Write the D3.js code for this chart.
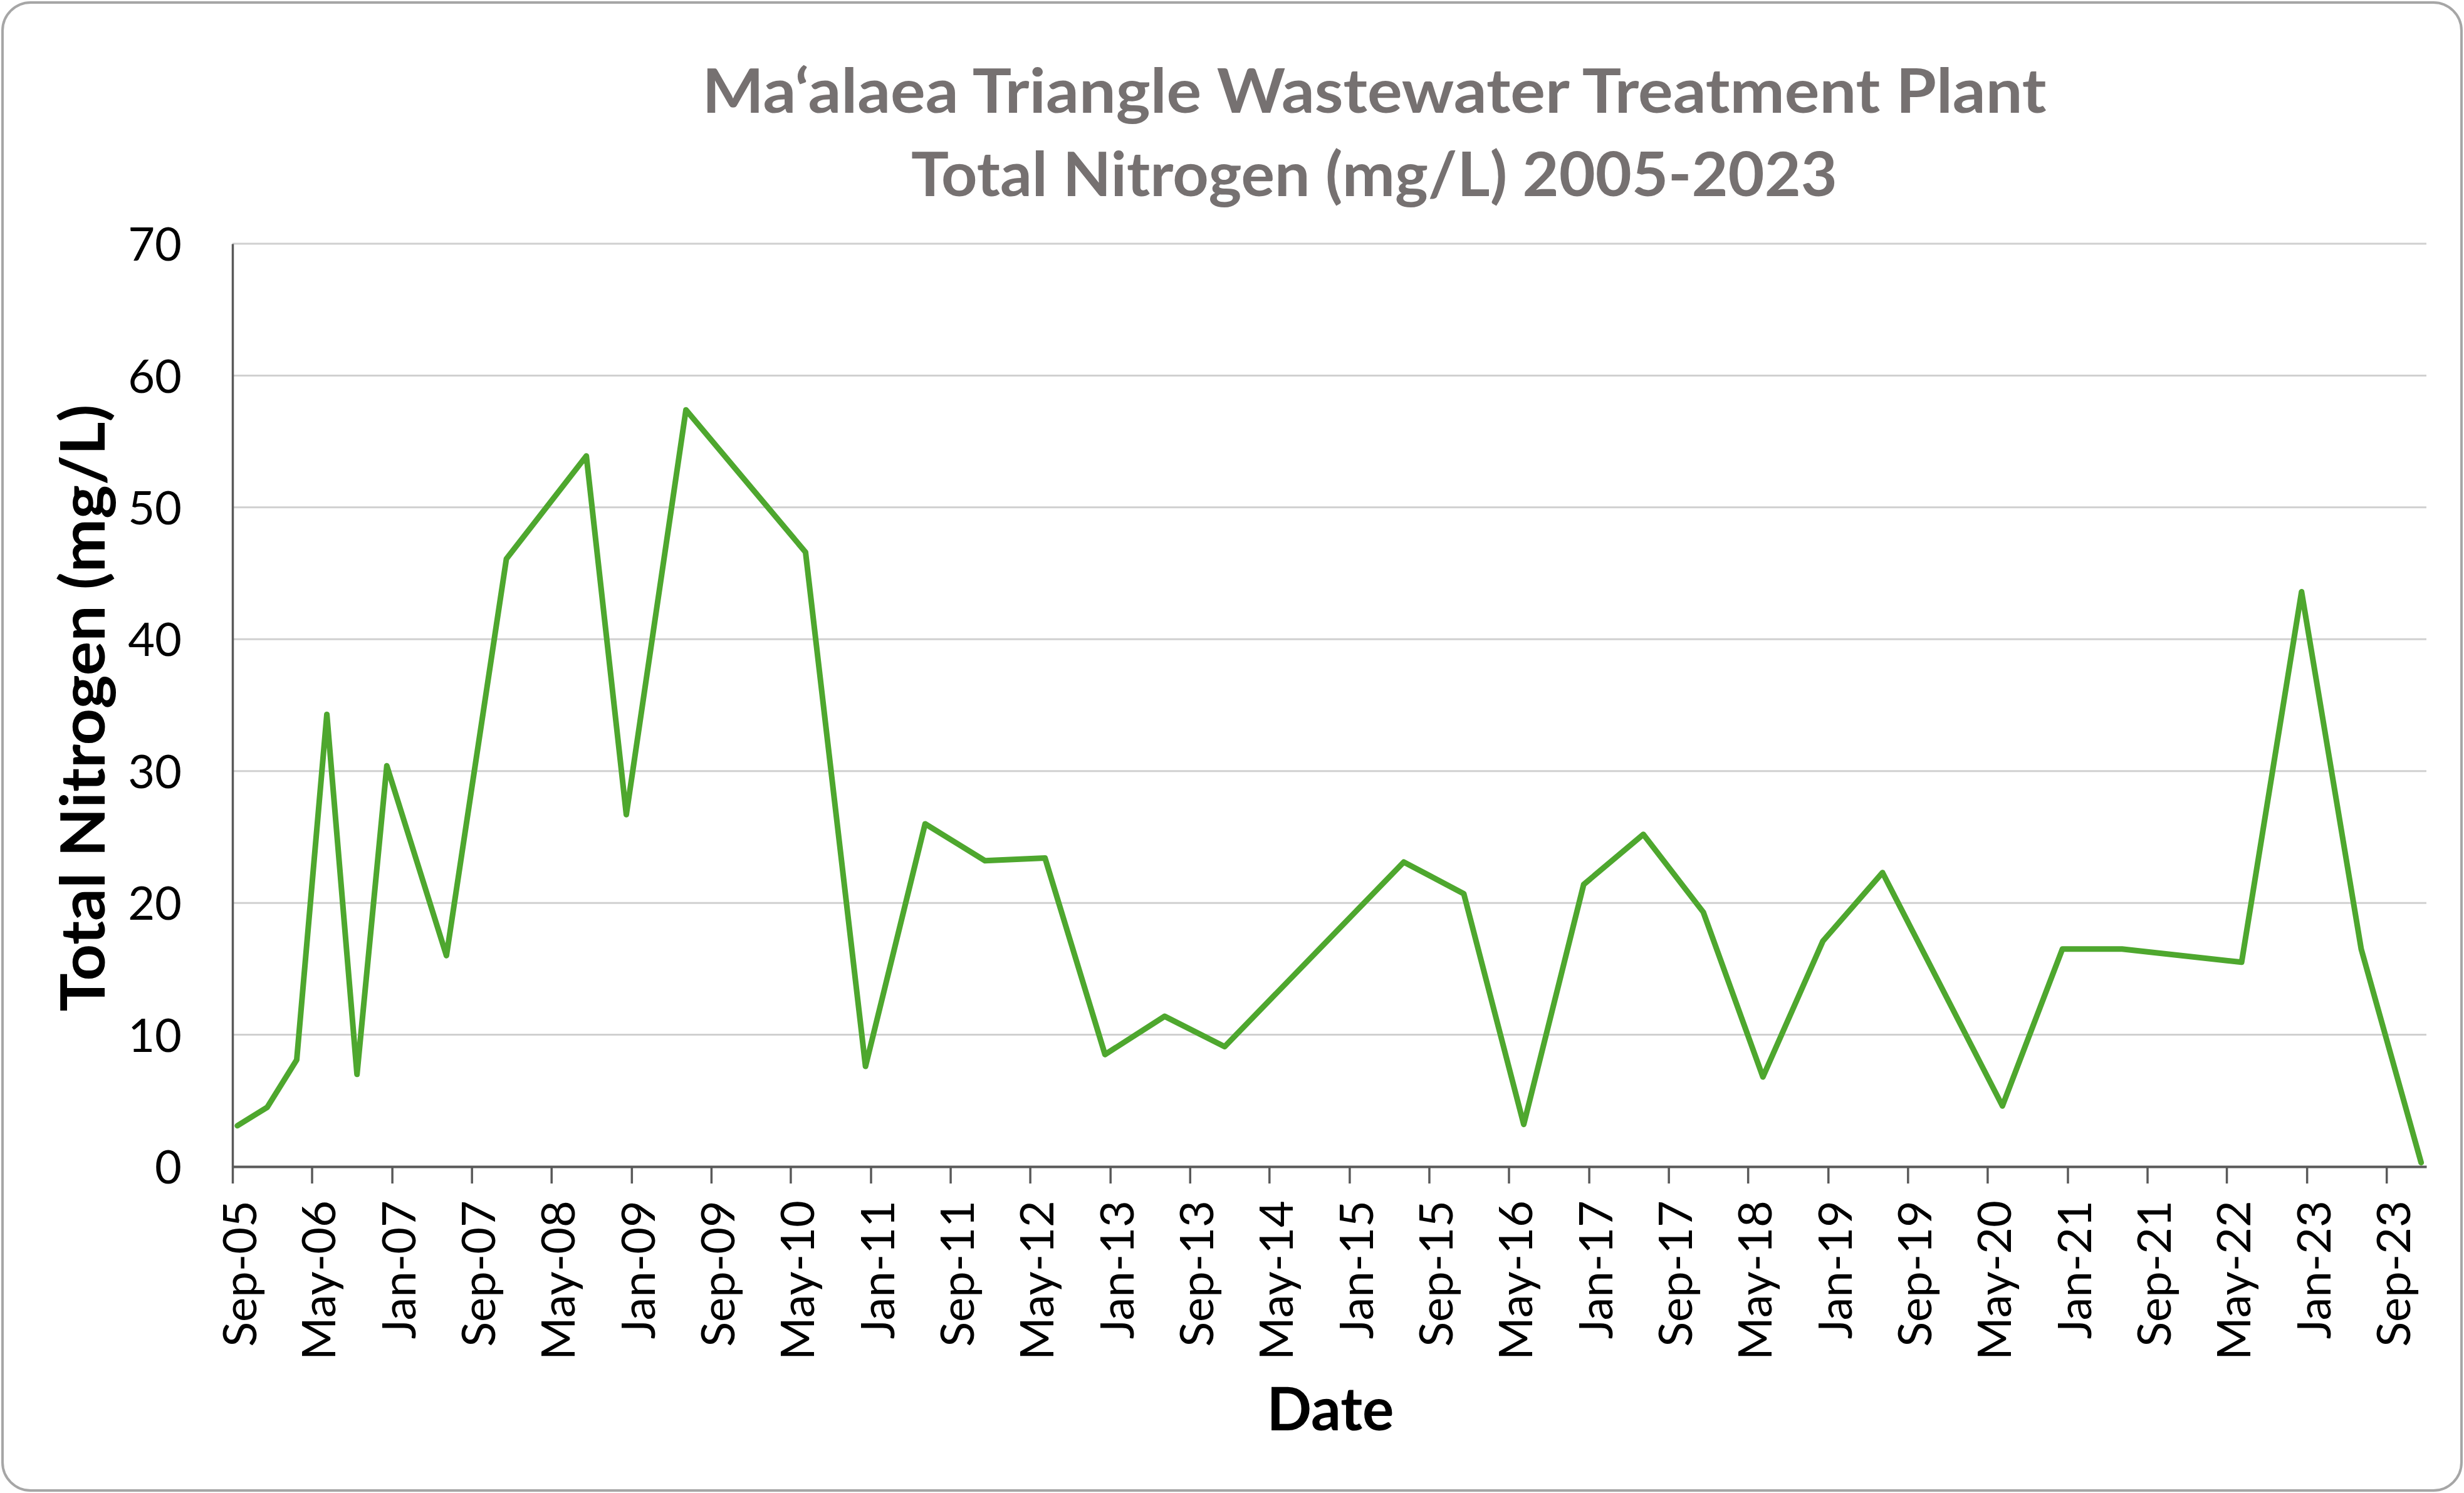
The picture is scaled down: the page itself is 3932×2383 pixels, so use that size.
<!DOCTYPE html>
<html>
<head>
<meta charset="utf-8">
<script src="https://cdn.jsdelivr.net/npm/d3@7"></script>
<style>
  html, body { margin: 0; padding: 0; background: #ffffff; }
  svg { display: block; }
</style>
</head>
<body>
<svg id="chart" width="3932" height="2383"></svg>
<script>
// ---- data ----
const titleLines = ["Ma\u2018alaea Triangle Wastewater Treatment Plant", "Total Nitrogen (mg/L) 2005-2023"];
const yAxisTitle = "Total Nitrogen (mg/L)";
const xAxisTitle = "Date";

// sample months (YYYY-MM)
const sampleMonths = [
  "2005-09","2005-12","2006-03","2006-06","2006-09","2006-12","2007-06","2007-12",
  "2008-08","2008-12","2009-06","2010-06","2010-12","2011-06","2011-12","2012-06",
  "2012-12","2013-06","2013-12","2015-06","2015-12","2016-06","2016-12","2017-06",
  "2017-12","2018-06","2018-12","2019-06","2020-06","2020-12","2021-06","2022-06",
  "2022-12","2023-06","2023-12"
];
// Total nitrogen, mg/L
const nitrogenValues = [
  3.1, 4.5, 8.1, 34.3, 7.0, 30.4, 16.0, 46.1,
  53.9, 26.7, 57.4, 46.6, 7.6, 26.0, 23.2, 23.4,
  8.5, 11.4, 9.1, 23.1, 20.7, 3.2, 21.4, 25.2,
  19.3, 6.8, 17.1, 22.3, 4.6, 16.5, 16.5, 15.5,
  43.6, 16.5, 0.3
];

const xTickLabels = [
  "Sep-05","May-06","Jan-07","Sep-07","May-08","Jan-09","Sep-09","May-10",
  "Jan-11","Sep-11","May-12","Jan-13","Sep-13","May-14","Jan-15","Sep-15",
  "May-16","Jan-17","Sep-17","May-18","Jan-19","Sep-19","May-20","Jan-21",
  "Sep-21","May-22","Jan-23","Sep-23"
];
const yTickValues = [0, 10, 20, 30, 40, 50, 60, 70];
const xDomainMonths = ["2005-09", "2024-01"];

// ---- layout ----
const W = 3932, H = 2383;
const plot = { left: 371, right: 3872, top: 389, bottom: 1862 };
const lineColor = "#4ea72e";
const titleColor = "#767171";

const svg = d3.select("#chart");

// chart border
svg.append("rect")
  .attr("x", 4).attr("y", 4)
  .attr("width", W - 8).attr("height", H - 8)
  .attr("rx", 45).attr("ry", 45)
  .attr("fill", "#ffffff")
  .attr("stroke", "#a6a6a6")
  .attr("stroke-width", 4);

const parseMonth = d3.utcParse("%Y-%m");
const parseTick = d3.utcParse("%b-%y");
// place each monthly sample in the middle of its month
const midMonth = m => { const d = parseMonth(m); return new Date(d.getTime() + 15 * 864e5); };

const data = sampleMonths.map((m, i) => ({ date: midMonth(m), value: nitrogenValues[i] }));

const x = d3.scaleUtc()
  .domain(xDomainMonths.map(parseMonth))
  .range([plot.left, plot.right]);

const y = d3.scaleLinear()
  .domain([0, 70])
  .range([plot.bottom, plot.top]);

// gridlines
svg.append("g")
  .selectAll("line")
  .data(yTickValues.filter(v => v > 0))
  .join("line")
  .attr("x1", plot.left).attr("x2", plot.right)
  .attr("y1", d => y(d)).attr("y2", d => y(d))
  .attr("stroke", "#d0d0d0")
  .attr("stroke-width", 3);

// y axis
const yAxis = d3.axisLeft(y).tickValues(yTickValues).tickSize(0).tickPadding(0);
const gy = svg.append("g").attr("transform", `translate(${plot.left},0)`).call(yAxis);
gy.select(".domain").attr("stroke", "#595959").attr("stroke-width", 3.5);
gy.selectAll("text")
  .attr("x", 290 - plot.left)
  .attr("dy", "0.36em")
  .style("font-family", "Lato, 'Open Sans', sans-serif")
  .style("font-size", "74px")
  .attr("fill", "#000000")
  .attr("text-anchor", "end");

// x axis
const xTickDates = xTickLabels.map(parseTick);
const xAxis = d3.axisBottom(x)
  .tickValues(xTickDates)
  .tickFormat((d, i) => xTickLabels[i])
  .tickSize(27)
  .tickSizeOuter(0);
const gx = svg.append("g").attr("transform", `translate(0,${plot.bottom})`).call(xAxis);
gx.select(".domain").attr("stroke", "#595959").attr("stroke-width", 4);
gx.selectAll(".tick line").attr("stroke", "#595959").attr("stroke-width", 3.5);
gx.selectAll(".tick text")
  .attr("transform", "rotate(-90)")
  .attr("x", -(1916 - plot.bottom))
  .attr("y", 0)
  .attr("dy", "37px")
  .attr("text-anchor", "end")
  .attr("fill", "#000000")
  .style("font-family", "Lato, 'Open Sans', sans-serif")
  .style("font-size", "74px");

// data line
const line = d3.line()
  .x(d => x(d.date))
  .y(d => y(d.value));

svg.append("path")
  .datum(data)
  .attr("d", line)
  .attr("fill", "none")
  .attr("stroke", lineColor)
  .attr("stroke-width", 9)
  .attr("stroke-linejoin", "round")
  .attr("stroke-linecap", "round");

// title
const titleLayout = [
  { y: 180, len: 2145 },
  { y: 313, len: 1478 }
];
svg.append("g")
  .selectAll("text")
  .data(titleLines)
  .join("text")
  .attr("x", 2193)
  .attr("y", (d, i) => titleLayout[i].y)
  .attr("text-anchor", "middle")
  .attr("textLength", (d, i) => titleLayout[i].len)
  .attr("lengthAdjust", "spacingAndGlyphs")
  .attr("fill", titleColor)
  .style("font-family", "Lato, 'Open Sans', sans-serif")
  .style("font-weight", "700")
  .style("font-size", "98px")
  .text(d => d);

// y axis title
svg.append("text")
  .attr("transform", "translate(167,1130) rotate(-90)")
  .attr("text-anchor", "middle")
  .attr("textLength", 969)
  .attr("lengthAdjust", "spacingAndGlyphs")
  .attr("fill", "#000000")
  .style("font-family", "Lato, 'Open Sans', sans-serif")
  .style("font-weight", "700")
  .style("font-size", "98px")
  .text(yAxisTitle);

// x axis title
svg.append("text")
  .attr("x", 2123)
  .attr("y", 2283)
  .attr("text-anchor", "middle")
  .attr("textLength", 203)
  .attr("lengthAdjust", "spacingAndGlyphs")
  .attr("fill", "#000000")
  .style("font-family", "Lato, 'Open Sans', sans-serif")
  .style("font-weight", "700")
  .style("font-size", "95px")
  .text(xAxisTitle);
</script>
</body>
</html>
